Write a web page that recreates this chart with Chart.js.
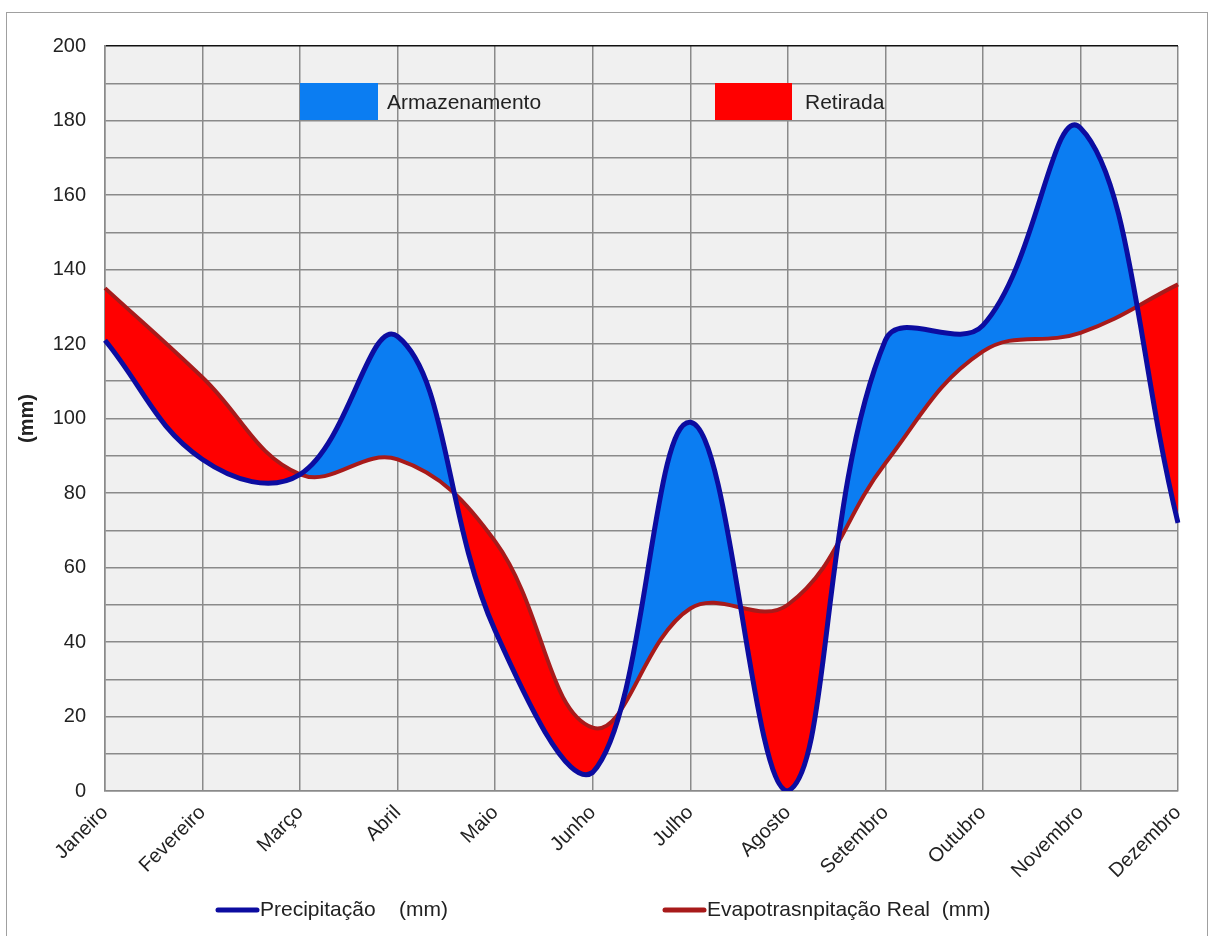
<!DOCTYPE html>
<html>
<head>
<meta charset="utf-8">
<title>Balanço hídrico</title>
<script src="https://cdn.jsdelivr.net/npm/chart.js@4/dist/chart.umd.min.js"></script>
<style>
    body { margin: 0; background: #ffffff; }
    canvas { display: block; }
</style>
</head>
<body>
<canvas id="balanco_chart" width="1212" height="936"></canvas>
<script>
var meses = ['Janeiro', 'Fevereiro', 'Março', 'Abril', 'Maio', 'Junho', 'Julho', 'Agosto', 'Setembro', 'Outubro', 'Novembro', 'Dezembro'];
var precipitacao = [121, 89, 85, 122, 43, 5, 99, 0, 121, 125, 178, 72];
var evapotranspiracao = [135, 111, 85, 89, 67, 17, 49, 50, 88, 118, 123, 136];
var nomesSeries = ['Precipitação    (mm)', 'Evapotrasnpitação Real  (mm)'];
var nomesAreas = ['Armazenamento', 'Retirada'];

(function () {
    'use strict';
    var fonte = "'Liberation Sans', Arial, sans-serif";
    var corGrade = '#8a8a8a';
    var azulLinha = '#0c0ca0';
    var vermelhoLinha = '#a81a1a';
    var azulArea = '#0b7df2';
    var vermelhoArea = '#ff0000';

    //Plot background, frame and the two hand-placed legends
    var decor = {
        id: 'decor',
        beforeDraw: function (chart) {
            var ctx = chart.ctx, a = chart.chartArea;
            ctx.save();
            ctx.fillStyle = '#ffffff';
            ctx.fillRect(0, 0, chart.width, chart.height);
            ctx.strokeStyle = '#a0a0a0';
            ctx.lineWidth = 1;
            ctx.strokeRect(6.5, 12.5, 1201, 940);
            ctx.fillStyle = '#f0f0f0';
            ctx.fillRect(a.left, a.top, a.right - a.left, a.bottom - a.top);
            ctx.restore();
        },
        afterDatasetsDraw: function (chart) {
            var ctx = chart.ctx;
            ctx.save();
            ctx.font = '21px ' + fonte;
            ctx.textBaseline = 'middle';
            ctx.fillStyle = azulArea;
            ctx.fillRect(300, 83, 78, 37);
            ctx.fillStyle = vermelhoArea;
            ctx.fillRect(715, 83, 77, 37);
            ctx.fillStyle = '#222222';
            ctx.fillText(nomesAreas[0], 387, 103);
            ctx.fillText(nomesAreas[1], 805, 103);
            ctx.restore();
        },
        afterDraw: function (chart) {
            var ctx = chart.ctx;
            ctx.save();
            ctx.lineWidth = 5;
            ctx.lineCap = 'round';
            ctx.strokeStyle = azulLinha;
            ctx.beginPath(); ctx.moveTo(218, 910); ctx.lineTo(257, 910); ctx.stroke();
            ctx.strokeStyle = vermelhoLinha;
            ctx.beginPath(); ctx.moveTo(665, 910); ctx.lineTo(704, 910); ctx.stroke();
            ctx.font = '21px ' + fonte;
            ctx.textBaseline = 'middle';
            ctx.fillStyle = '#222222';
            ctx.fillText(nomesSeries[0], 260, 910);
            ctx.fillText(nomesSeries[1], 707, 910);
            ctx.restore();
        }
    };

    function initBalancoChart() {
        var config = {
            type: 'line',
            data: {
                labels: meses,
                datasets: [{
                    label: nomesSeries[0],
                    data: precipitacao,
                    borderColor: azulLinha,
                    borderWidth: 5,
                    pointRadius: 0,
                    tension: 0.4,
                    fill: { target: 1, above: azulArea, below: vermelhoArea }
                }, {
                    label: nomesSeries[1],
                    data: evapotranspiracao,
                    borderColor: vermelhoLinha,
                    borderWidth: 4,
                    pointRadius: 0,
                    tension: 0.4,
                    fill: false
                }]
            },
            options: {
                responsive: false,
                animation: false,
                layout: { padding: { left: 10, top: 46, right: 34, bottom: 0 } },
                plugins: {
                    legend: { display: false },
                    tooltip: { enabled: false },
                    filler: { drawTime: 'beforeDatasetsDraw' }
                },
                scales: {
                    x: {
                        offset: false,
                        grid: { color: corGrade, lineWidth: 1.5, drawTicks: false },
                        border: { color: corGrade, width: 1.5 },
                        ticks: {
                            autoSkip: false, maxRotation: 45, minRotation: 45, padding: 10,
                            color: '#222222', font: { family: fonte, size: 20 }
                        },
                        afterFit: function (scale) { scale.height = 145; }
                    },
                    y: {
                        min: 0,
                        max: 200,
                        grid: {
                            color: function (c) { return c.tick && c.tick.value === 200 ? '#111111' : corGrade; },
                            lineWidth: 1.5,
                            drawTicks: false
                        },
                        border: { color: corGrade, width: 1.5 },
                        ticks: {
                            stepSize: 10, padding: 19, color: '#222222',
                            font: { family: fonte, size: 20 },
                            callback: function (v) { return v % 20 === 0 ? v : ''; }
                        },
                        title: {
                            display: true, text: '(mm)', color: '#222222',
                            font: { family: fonte, size: 20, weight: 'bold' },
                            padding: { top: 5, bottom: 0 }
                        },
                        afterFit: function (scale) { scale.width = 95; }
                    }
                }
            },
            plugins: [decor]
        };

        var chart = new Chart(document.getElementById('balanco_chart').getContext('2d'), config);
    }

    initBalancoChart();
}());
</script>
</body>
</html>
